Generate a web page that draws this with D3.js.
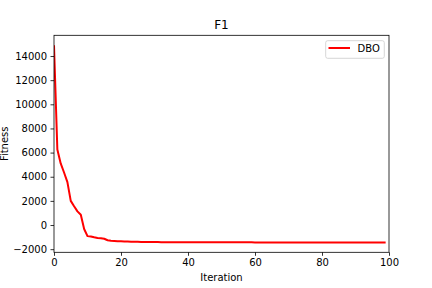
<!DOCTYPE html>
<html>
<head>
<meta charset="utf-8">
<script src="https://cdn.jsdelivr.net/npm/d3@7"></script>
<style>
  body { margin: 0; background: #fff; }
  text { font-family: "DejaVu Sans", sans-serif; fill: #000; }
</style>
</head>
<body>
<div id="chart"></div>
<script>
// convergence curve, one value per iteration (0..99)
var seriesName = "DBO";
var fitness = [
  14900, 6250, 5100, 4350, 3550, 2000, 1550, 1130, 850, -330,
  -920, -950, -1020, -1080, -1090, -1140, -1260, -1300, -1320, -1340,
  -1350, -1360, -1370, -1380, -1390, -1395, -1400, -1405, -1410, -1410,
  -1415, -1415, -1420, -1420, -1420, -1425, -1425, -1425, -1430, -1430,
  -1430, -1430, -1432, -1432, -1432, -1433, -1433, -1434, -1434, -1434,
  -1435, -1435, -1435, -1436, -1436, -1436, -1437, -1437, -1437, -1437,
  -1438, -1438, -1438, -1438, -1439, -1439, -1439, -1439, -1440, -1440,
  -1440, -1440, -1440, -1441, -1441, -1441, -1441, -1441, -1441, -1442,
  -1442, -1442, -1442, -1442, -1442, -1442, -1443, -1443, -1443, -1443,
  -1443, -1443, -1443, -1443, -1443, -1443, -1443, -1443, -1443, -1443
];
var xTicks = [0, 20, 40, 60, 80, 100];
var yTicks = [-2000, 0, 2000, 4000, 6000, 8000, 10000, 12000, 14000];

var w = 432, h = 288;
var mLeft = 54, mRight = 389, mTop = 35.3, mBottom = 252.3;

var svg = d3.select("#chart")
    .append("svg")
    .attr("width", w)
    .attr("height", h);

var x = d3.scaleLinear().domain([0, 100]).range([mLeft, mRight]);

// matplotlib style 5% margin
var ext = d3.extent(fitness);
var pad = (ext[1] - ext[0]) * 0.05;
var y = d3.scaleLinear().domain([ext[0] - pad, ext[1] + pad]).range([mBottom, mTop]);

var fmt = function(d) { return d < 0 ? "\u2212" + Math.abs(d) : "" + d; };

svg.append("defs").append("clipPath").attr("id", "clip")
    .append("rect")
    .attr("x", mLeft).attr("y", mTop)
    .attr("width", mRight - mLeft).attr("height", mBottom - mTop);

svg.append("path")
    .datum(fitness)
    .attr("clip-path", "url(#clip)")
    .attr("fill", "none")
    .attr("stroke", "red")
    .attr("stroke-width", 2)
    .attr("stroke-linejoin", "round")
    .attr("d", d3.line()
        .x(function(d, i) { return x(i); })
        .y(function(d) { return y(d); }));

var xAxis = svg.append("g")
    .attr("transform", "translate(0," + mBottom + ")")
    .call(d3.axisBottom(x).tickValues(xTicks).tickSize(3.5).tickPadding(3.5).tickFormat(fmt));

var yAxis = svg.append("g")
    .attr("transform", "translate(" + mLeft + ",0)")
    .call(d3.axisLeft(y).tickValues(yTicks).tickSize(3.5).tickPadding(3.5).tickFormat(fmt));

[xAxis, yAxis].forEach(function(g) {
  g.select(".domain").remove();
  g.selectAll(".tick line").attr("stroke", "#000").attr("stroke-width", 0.8);
  g.selectAll(".tick text")
    .attr("font-size", 10)
    .attr("font-family", "DejaVu Sans, sans-serif")
    .attr("fill", "#000");
});

// frame
svg.append("rect")
    .attr("x", mLeft).attr("y", mTop)
    .attr("width", mRight - mLeft).attr("height", mBottom - mTop)
    .attr("fill", "none")
    .attr("stroke", "#000")
    .attr("stroke-width", 0.8);

svg.append("text")
    .attr("x", (mLeft + mRight) / 2).attr("y", mTop - 6)
    .attr("text-anchor", "middle")
    .attr("font-size", 12)
    .text("F1");

svg.append("text")
    .attr("x", (mLeft + mRight) / 2).attr("y", 281)
    .attr("text-anchor", "middle")
    .attr("font-size", 10)
    .text("Iteration");

svg.append("text")
    .attr("transform", "translate(8," + ((mTop + mBottom) / 2) + ") rotate(-90)")
    .attr("text-anchor", "middle")
    .attr("font-size", 10)
    .text("Fitness");

// legend
var lg = svg.append("g");
lg.append("rect")
    .attr("x", 325.7).attr("y", 40.7)
    .attr("width", 58.6).attr("height", 17.6)
    .attr("rx", 2)
    .attr("fill", "#fff")
    .attr("fill-opacity", 0.8)
    .attr("stroke", "#ccc")
    .attr("stroke-width", 0.8);
lg.append("line")
    .attr("x1", 328.5).attr("x2", 350)
    .attr("y1", 48).attr("y2", 48)
    .attr("stroke", "red")
    .attr("stroke-width", 2);
lg.append("text")
    .attr("x", 357.5).attr("y", 51.5)
    .attr("font-size", 10)
    .text(seriesName);
</script>
</body>
</html>
